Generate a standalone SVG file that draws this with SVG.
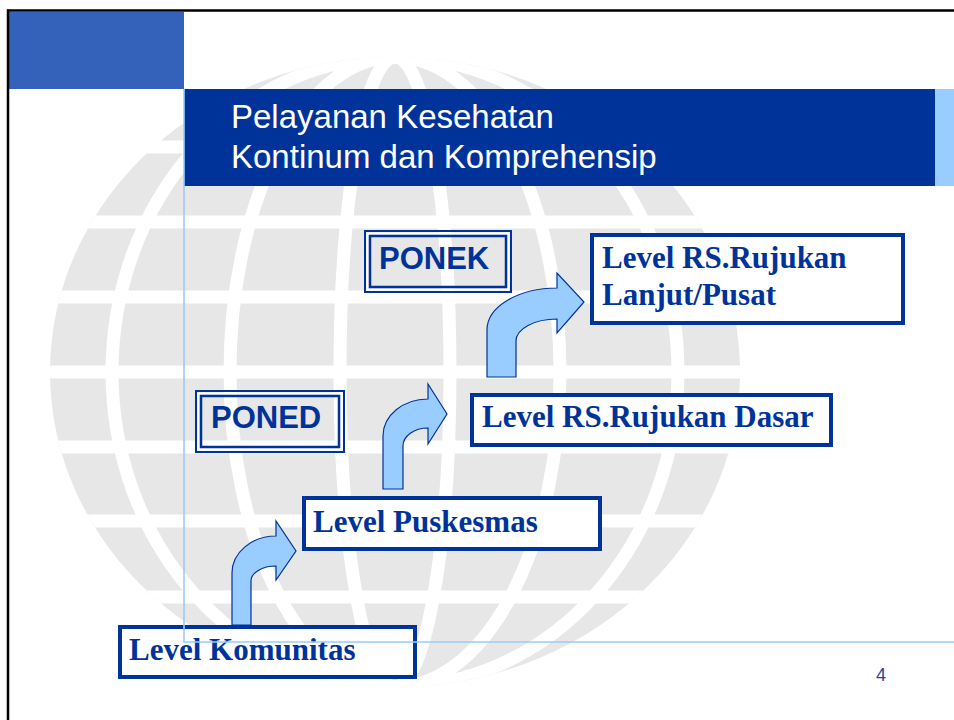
<svg xmlns="http://www.w3.org/2000/svg" width="954" height="720" viewBox="0 0 954 720">
  <style>
    .lvl-box { fill: #ffffff; stroke: #003399; stroke-width: 4; }
    .lvl-text { font-family: "Liberation Serif", "Times New Roman", serif; font-weight: bold; font-size: 31px; fill: #003399; }
    .tag-outer { fill: none; stroke: #003399; stroke-width: 2; }
    .tag-gap { fill: none; stroke: #ffffff; stroke-width: 2; }
    .tag-inner { fill: none; stroke: #003399; stroke-width: 2.5; }
    .tag-text { font-family: "Liberation Sans", Arial, sans-serif; font-weight: bold; font-size: 31px; fill: #003399; }
    .title { font-family: "Liberation Sans", Arial, sans-serif; font-size: 33px; fill: #ffffff; }
    .bend { fill: #99ccff; stroke: #003399; stroke-width: 1.2; stroke-linejoin: miter; }
    .guide { stroke: #99ccff; stroke-width: 1.6; fill: none; }
    .grid { stroke: #ffffff; stroke-width: 13; fill: none; }
  </style>
  <defs>
    <clipPath id="globeClip">
      <ellipse cx="395" cy="372" rx="345" ry="315"/>
    </clipPath>
  </defs>

  <rect x="0" y="0" width="954" height="720" fill="#ffffff"/>

  <!-- globe watermark -->
  <g id="globe">
    <ellipse cx="395" cy="372" rx="345" ry="315" fill="#e7e7e7"/>
    <g clip-path="url(#globeClip)" class="grid">
      <ellipse cx="395" cy="372" rx="55" ry="315"/>
      <ellipse cx="395" cy="372" rx="165" ry="315"/>
      <ellipse cx="395" cy="372" rx="283" ry="315"/>
      <line x1="0" y1="147" x2="954" y2="147"/>
      <line x1="0" y1="222" x2="954" y2="222"/>
      <line x1="0" y1="297" x2="954" y2="297"/>
      <line x1="0" y1="372" x2="954" y2="372"/>
      <line x1="0" y1="447" x2="954" y2="447"/>
      <line x1="0" y1="521" x2="954" y2="521"/>
      <line x1="0" y1="597" x2="954" y2="597"/>
    </g>
  </g>

  <!-- header -->
  <g id="header">
    <rect x="9" y="12" width="175" height="77" fill="#3461ba"/>
    <rect x="184" y="89" width="751" height="97" fill="#003399"/>
    <rect x="935" y="89" width="19" height="97" fill="#99ccff"/>
    <text class="title" x="231" y="128">Pelayanan Kesehatan</text>
    <text class="title" x="231" y="168">Kontinum dan Komprehensip</text>
  </g>

  <!-- page frame -->
  <line x1="7" y1="10.5" x2="954" y2="10.5" stroke="#000000" stroke-width="2.5"/>
  <line x1="8" y1="9.5" x2="8" y2="720" stroke="#000000" stroke-width="2.5"/>

  <!-- bent arrows between levels -->
  <g id="connectors">
    <path class="bend" d="M232,625 L232,573 A44,37 0 0 1 276,536 L276,521 L296,551 L276,580 L276,566 A25,15 0 0 0 251,581 L251,625 Z"/>
    <path class="bend" d="M383,489 L383,436 A45,37 0 0 1 428,399 L428,384 L447,414 L428,444 L428,428 A25,18 0 0 0 403,446 L403,489 Z"/>
    <path class="bend" d="M487,377 L487,330 A70,42 0 0 1 557,288 L557,273 L584,302 L557,333 L557,319 A41,22 0 0 0 516,341 L516,377 Z"/>
  </g>

  <g id="ponek">
    <rect class="tag-outer" x="365" y="231" width="146" height="61"/>
    <rect class="tag-gap" x="367.5" y="233.5" width="141" height="56"/>
    <rect class="tag-inner" x="370" y="236" width="136" height="51"/>
    <text class="tag-text" x="379" y="269">PONEK</text>
  </g>

  <g id="poned">
    <rect class="tag-outer" x="196" y="391" width="148" height="61"/>
    <rect class="tag-gap" x="198.5" y="393.5" width="143" height="56"/>
    <rect class="tag-inner" x="201" y="396" width="138" height="51"/>
    <text class="tag-text" x="211" y="428">PONED</text>
  </g>

  <g id="rs-lanjut">
    <rect class="lvl-box" x="592" y="235" width="311" height="88"/>
    <text class="lvl-text" x="602" y="268">Level RS.Rujukan</text>
    <text class="lvl-text" x="602" y="305">Lanjut/Pusat</text>
  </g>

  <g id="rs-dasar">
    <rect class="lvl-box" x="472" y="395" width="359" height="50"/>
    <text class="lvl-text" x="482" y="427">Level RS.Rujukan Dasar</text>
  </g>

  <g id="puskesmas">
    <rect class="lvl-box" x="304" y="498" width="296" height="51"/>
    <text class="lvl-text" x="313" y="532">Level Puskesmas</text>
  </g>

  <g id="komunitas">
    <rect class="lvl-box" x="120" y="627" width="295" height="50"/>
    <text class="lvl-text" x="129" y="660">Level Komunitas</text>
  </g>

  <!-- layout guides -->
  <polyline class="guide" points="184,89 184,642 954,642"/>

  <text x="881" y="681" text-anchor="middle" font-family="Liberation Sans, Arial, sans-serif" font-size="18" fill="#1f44a0">4</text>
</svg>
